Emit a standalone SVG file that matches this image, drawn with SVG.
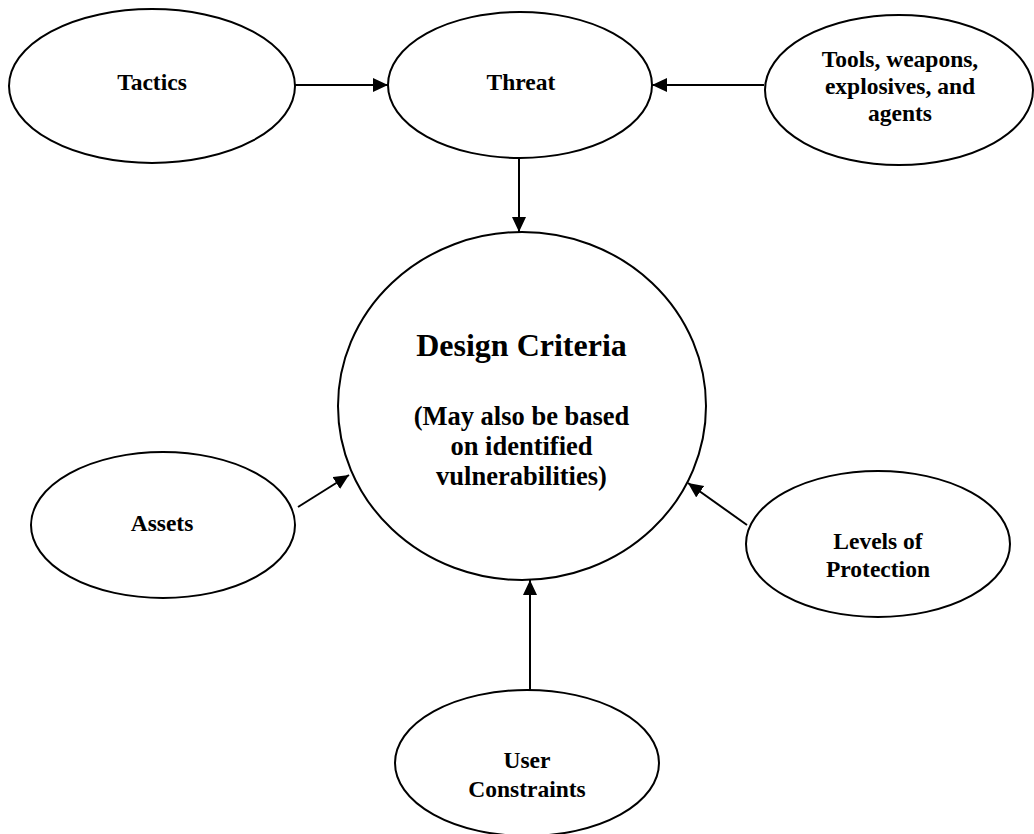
<svg xmlns="http://www.w3.org/2000/svg" width="1034" height="834" viewBox="0 0 1034 834">
<defs>
<marker id="ah" markerUnits="userSpaceOnUse" markerWidth="16" markerHeight="15" refX="15" refY="7" orient="auto">
<path d="M0,0 L15,7 L0,14 z" fill="#000"/>
</marker>
</defs>
<style>
.n{fill:#fff;stroke:#000;stroke-width:2}
.t{font-family:"Liberation Serif","Times New Roman",serif;font-weight:bold;font-size:23.5px;text-anchor:middle;fill:#000}
.c{stroke:#000;stroke-width:2;fill:none;marker-end:url(#ah)}
</style>
<rect width="1034" height="834" fill="#fff"/>
<g id="connectors">
<line class="c" x1="295" y1="85" x2="388" y2="85"/>
<line class="c" x1="764" y1="85" x2="652" y2="85"/>
<line class="c" x1="519" y1="158" x2="519" y2="232"/>
<line class="c" x1="298" y1="507" x2="349" y2="475"/>
<line class="c" x1="747" y1="525" x2="688" y2="483"/>
<line class="c" x1="530" y1="690" x2="530" y2="580"/>
</g>
<g id="tactics">
<ellipse class="n" cx="152" cy="86" rx="143" ry="77"/>
<text class="t" x="152" y="90">Tactics</text>
</g>
<g id="threat">
<ellipse class="n" cx="520" cy="85" rx="132" ry="73"/>
<text class="t" x="521" y="90">Threat</text>
</g>
<g id="tools">
<ellipse class="n" cx="899" cy="90" rx="134" ry="75"/>
<text class="t" x="900" y="67">Tools, weapons,</text>
<text class="t" x="900" y="94">explosives, and</text>
<text class="t" x="900" y="121">agents</text>
</g>
<g id="design-criteria">
<ellipse class="n" cx="522" cy="406" rx="184" ry="174"/>
<text class="t" x="521.5" y="356" style="font-size:32px">Design Criteria</text>
<text class="t" x="521.5" y="425" style="font-size:26.5px">(May also be based</text>
<text class="t" x="521.5" y="455" style="font-size:26.5px">on identified</text>
<text class="t" x="521.5" y="485" style="font-size:26.5px">vulnerabilities)</text>
</g>
<g id="assets">
<ellipse class="n" cx="163" cy="525" rx="132" ry="73"/>
<text class="t" x="162" y="531">Assets</text>
</g>
<g id="levels">
<ellipse class="n" cx="878" cy="544" rx="132" ry="73"/>
<text class="t" x="878" y="549">Levels of</text>
<text class="t" x="878" y="577">Protection</text>
</g>
<g id="user-constraints">
<ellipse class="n" cx="527" cy="763" rx="132" ry="73"/>
<text class="t" x="527" y="768">User</text>
<text class="t" x="527" y="797">Constraints</text>
</g>
</svg>
